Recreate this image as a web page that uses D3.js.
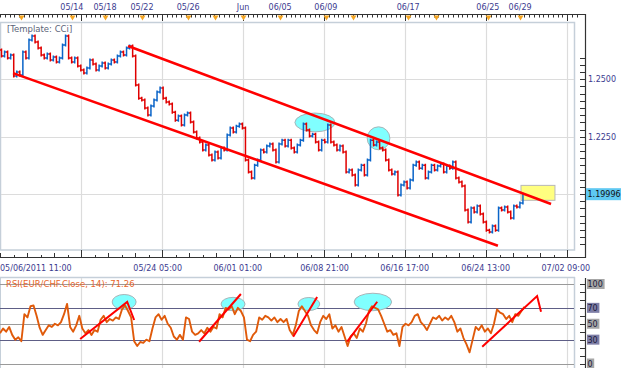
<!DOCTYPE html>
<html><head><meta charset="utf-8">
<script src="https://cdn.jsdelivr.net/npm/d3@7/dist/d3.min.js"></script>
<style>html,body{margin:0;padding:0;background:#fff;}svg{display:block;font-family:"DejaVu Sans",Verdana,sans-serif;}</style>
</head><body><svg id="c" width="625" height="368"></svg>
<script>
// ---------------- DATA ----------------
const barHours = 7; // chart hours per bar
const priceClose = [1.2628,1.2602,1.2619,1.2593,1.2606,1.2514,1.2532,1.2519,1.2619,1.2593,
1.2671,1.2689,1.2663,1.2636,1.2606,1.2593,1.2610,1.2584,1.2597,1.2575,
1.2593,1.2649,1.2689,1.2593,1.2575,1.2593,1.2558,1.2541,1.2527,1.2549,
1.2584,1.2567,1.2541,1.2558,1.2571,1.2549,1.2567,1.2584,1.2575,1.2602,
1.2619,1.2606,1.2636,1.2645,1.2602,1.2475,1.2418,1.2410,1.2375,1.2344,
1.2384,1.2410,1.2445,1.2462,1.2418,1.2401,1.2392,1.2357,1.2322,1.2340,
1.2301,1.2344,1.2353,1.2314,1.2270,1.2244,1.2227,1.2192,1.2214,1.2170,
1.2148,1.2183,1.2157,1.2201,1.2192,1.2257,1.2288,1.2270,1.2296,1.2305,
1.2288,1.2148,1.2096,1.2070,1.2126,1.2148,1.2192,1.2183,1.2209,1.2218,
1.2192,1.2140,1.2218,1.2235,1.2209,1.2235,1.2201,1.2183,1.2214,1.2235,
1.2305,1.2279,1.2253,1.2261,1.2227,1.2192,1.2235,1.2227,1.2301,1.2227,
1.2214,1.2192,1.2209,1.2183,1.2096,1.2105,1.2083,1.2040,1.2105,1.2126,
1.2083,1.2148,1.2235,1.2214,1.2227,1.2201,1.2192,1.2148,1.2105,1.2087,
1.2096,1.1996,1.2040,1.2053,1.2027,1.2061,1.2126,1.2140,1.2113,1.2126,
1.2070,1.2096,1.2126,1.2105,1.2122,1.2131,1.2096,1.2122,1.2113,1.2140,
1.2070,1.2053,1.2035,1.1931,1.1878,1.1940,1.1922,1.1948,1.1913,1.1878,
1.1843,1.1835,1.1861,1.1843,1.1940,1.1931,1.1944,1.1922,1.1896,1.1948,
1.1944,1.1961,1.19996];
const rsiValues = [38,44,40,46,36,30,33,28,62,58,
72,73,60,45,36,42,48,46,50,48,
52,62,75,46,40,48,60,44,38,42,
36,42,40,55,60,52,56,54,58,56,
68,73,66,58,28,22,27,26,30,28,
44,58,62,55,60,50,45,34,30,36,
30,58,56,40,36,38,42,38,45,40,
46,44,62,58,70,68,72,62,70,66,
58,30,28,36,40,58,55,60,58,54,
58,52,56,52,56,42,36,48,66,72,
66,60,48,42,38,52,60,56,62,44,
48,40,46,34,22,34,38,32,44,40,
50,66,72,70,68,60,50,40,42,36,
38,22,46,50,48,52,60,62,52,48,
42,50,58,56,60,54,58,55,60,52,
40,44,32,24,14,30,46,42,48,40,
44,38,50,68,64,62,56,60,52,62,
60,66,71.26];
const topLabels = ["05/14","05/18","05/22","05/26","Jun","06/05","06/09","06/17","06/25","06/29"];
const topLabelHours = [165,241,326,432,558,643,748,937,1120,1194];
const topExtraMarkerHours = [48,494,810,1001];
const bottomLabels = ["05/06/2011 11:00","05/24 05:00","06/01 01:00","06/08 21:00","06/16 17:00","06/24 13:00","07/02 09:00"];
const bottomLabelHours = [0,362,546,745,929,1115,1299];
const gridHours = [186,372,558,744,930,1116,1302];
const priceTickValues = [1.2250,1.2500];
const lastPrice = 1.19996;
const rsiLevels = [100,70,50,30,0];
const rsiLastLabel = "RSI(EUR/CHF.Close, 14): 71.26";
const templateLabel = "[Template: CCi]";
const channelUpper = [[294,1.2645],[1265,1.1957]];
const channelLower = [[30,1.2527],[1143,1.1775]];
const targetBox = {h0:1196,h1:1274,p0:1.1973,p1:1.2038};
const priceHighlights = [{h:723,p:1.2312,dh:46,dp:0.0041},{h:869,p:1.2243,dh:26,dp:0.0050}];
const rsiHighlights = [{h:285,v:77.4,dh:27.5,dv:9.4},{h:535,v:74.8,dh:27.5,dv:8.4},{h:709,v:74.8,dh:25,dv:8.2},{h:856,v:77.4,dh:43,dv:11}];
const rsiTrendLines = [
  [[184,30.8],[292,77.4],[308,54.7]],
  [[457,27.4],[553,87.4]],
  [[673,33.7],[728,83.6]],
  [[797,27.4],[866,77.7]],
  [[1107,21.1],[1233,84.9],[1242,65.2]]
];

// ---------------- DRAW ----------------
const svg = d3.select("#c");
const x = d3.scaleLinear().domain([0,1320]).range([0,575]);
const y = d3.scaleLinear().domain([1.20,1.25]).range([194.1,79.3]);
const yr = d3.scaleLinear().domain([0,100]).range([363.5,284]);
const AX = 585.5;
const textCol = "#3b3b8f";
const gridCol = "#dcdcdc";
const frameCol = "#c5cfd9";

// main panel frame + grid
const mainG = svg.append("g");
mainG.append("rect").attr("x",0.5).attr("y",22.5).attr("width",574).attr("height",227.5)
  .attr("fill","#fff").attr("stroke",frameCol).attr("stroke-width",1.5);
[1.20,1.225,1.25].forEach(v=>{
  mainG.append("line").attr("x1",1).attr("x2",574).attr("y1",Math.round(y(v))+0.5).attr("y2",Math.round(y(v))+0.5)
   .attr("stroke",gridCol).attr("stroke-width",1.2);
});
gridHours.forEach(h=>{
  mainG.append("line").attr("x1",Math.round(x(h))+0.5).attr("x2",Math.round(x(h))+0.5).attr("y1",23).attr("y2",249)
   .attr("stroke",gridCol).attr("stroke-width",1.2);
});
// highlights
priceHighlights.forEach(e=>{
  mainG.append("ellipse").attr("cx",x(e.h)).attr("cy",y(e.p))
   .attr("rx",x(e.dh)-x(0)).attr("ry",Math.abs(y(1.2+e.dp)-y(1.2)))
   .attr("fill","#80ffff").attr("stroke","#a8b4b8").attr("stroke-width",1);
});
// target box
mainG.append("rect").attr("x",x(targetBox.h0)).attr("y",y(targetBox.p1))
  .attr("width",x(targetBox.h1)-x(targetBox.h0)).attr("height",y(targetBox.p0)-y(targetBox.p1))
  .attr("fill","#ffff80").attr("stroke","#b8b8b8").attr("stroke-width",1);
// price bars: open = previous close, OHLC-style vertical bar coloured by direction
const pg = mainG.append("g");
priceClose.forEach((c,i)=>{
  if(i===0) return;
  const o = priceClose[i-1];
  const xm = x(i*barHours - barHours/2);
  const yo = y(o), yc = y(c);
  const yTop = Math.min(yo,yc)-1.5, yBot = Math.max(yo,yc)+1.5;
  pg.append("path").attr("d",`M${xm},${yTop}V${yBot}M${xm-1.6},${yo}H${xm}M${xm},${yc}H${xm+1.6}`)
    .attr("fill","none").attr("stroke", c>=o ? "#0a64c8" : "#e00000").attr("stroke-width",1.5);
});
// channel lines
const ln = d3.line().x(d=>x(d[0])).y(d=>y(d[1]));
[channelUpper,channelLower].forEach(c=>{
  mainG.append("path").attr("d",ln(c)).attr("fill","none").attr("stroke","#ff0000").attr("stroke-width",2.6);
});
mainG.append("text").attr("x",7).attr("y",31.5).attr("font-size",8.5).attr("fill","#5a6478").text(templateLabel);

// top axis
const topG = svg.append("g");
topG.append("line").attr("x1",0).attr("x2",AX).attr("y1",14.5).attr("y2",14.5).attr("stroke","#333").attr("stroke-width",1.2);
d3.range(0,1330,186/17).forEach(h=>{
  const isMaj = Math.abs(h/186 - Math.round(h/186))<1e-6 && h>0;
  topG.append("line").attr("x1",Math.round(x(h))+0.5).attr("x2",Math.round(x(h))+0.5).attr("y1",14.5).attr("y2",isMaj?21:17.5)
    .attr("stroke","#333").attr("stroke-width",1);
});
topG.append("line").attr("x1",AX).attr("x2",AX).attr("y1",14).attr("y2",258).attr("stroke","#333").attr("stroke-width",1.2);
topLabelHours.concat(topExtraMarkerHours).forEach(h=>{
  const cx = Math.round(x(h))+0.5;
  topG.append("path").attr("d",`M${cx-3},15.5L${cx+3},15.5L${cx},20.5Z`).attr("fill","#f5a623");
});
topLabels.forEach((t,i)=>{
  topG.append("text").attr("x",x(topLabelHours[i])).attr("y",9.5).attr("text-anchor","middle")
    .attr("font-size",8).attr("fill",textCol).text(t);
});

// right price axis
const ra = svg.append("g");
d3.range(-8,20).map(k=>1.2+k*0.003125).filter(v=>y(v)>24 && y(v)<250).forEach(v=>{
  ra.append("line").attr("x1",580).attr("x2",AX).attr("y1",Math.round(y(v))+0.5).attr("y2",Math.round(y(v))+0.5)
    .attr("stroke","#333").attr("stroke-width",1);
});
priceTickValues.forEach(v=>{
  ra.append("text").attr("x",588).attr("y",y(v)+3).attr("font-size",8).attr("fill",textCol).text(d3.format(".4f")(v));
});
ra.append("rect").attr("x",586).attr("y",y(lastPrice)-6).attr("width",35).attr("height",12).attr("fill","#5ec8f2");
ra.append("text").attr("x",587.5).attr("y",y(lastPrice)+3).attr("font-size",8).attr("fill","#111").text(d3.format(".5f")(lastPrice));

// bottom axis
const ba = svg.append("g");
ba.append("line").attr("x1",0).attr("x2",AX).attr("y1",257.5).attr("y2",257.5).attr("stroke","#333").attr("stroke-width",1.2);
d3.range(0,1330,31).forEach((h,i)=>{
  const isMaj = i%6===0 && i>0;
  ba.append("line").attr("x1",Math.round(x(h))+0.5).attr("x2",Math.round(x(h))+0.5)
    .attr("y1",isMaj?250:(i%2? 255:253)).attr("y2",257.5).attr("stroke","#333").attr("stroke-width",1);
});
bottomLabels.forEach((t,i)=>{
  ba.append("text").attr("x",x(bottomLabelHours[i])).attr("y",270.5).attr("text-anchor",i===0?"start":"middle")
    .attr("font-size",8).attr("fill",textCol).text(t);
});

// RSI panel
const rp = svg.append("g");
rp.append("line").attr("x1",0).attr("x2",575).attr("y1",277.5).attr("y2",277.5).attr("stroke",frameCol).attr("stroke-width",1.5);
rp.append("line").attr("x1",574.5).attr("x2",574.5).attr("y1",277).attr("y2",368).attr("stroke",frameCol).attr("stroke-width",1.5);
rp.append("line").attr("x1",0.5).attr("x2",0.5).attr("y1",277).attr("y2",368).attr("stroke",frameCol).attr("stroke-width",1);
gridHours.forEach(h=>{
  rp.append("line").attr("x1",Math.round(x(h))+0.5).attr("x2",Math.round(x(h))+0.5).attr("y1",278).attr("y2",368)
   .attr("stroke",gridCol).attr("stroke-width",1.2);
});
const levelCol = v => (v===70||v===30) ? "#5e5e86" : "#9a9a9a";
rsiLevels.forEach(v=>{
  rp.append("line").attr("x1",0).attr("x2",574).attr("y1",Math.round(yr(v))+0.5).attr("y2",Math.round(yr(v))+0.5)
    .attr("stroke",levelCol(v)).attr("stroke-width",1.2);
});
rsiHighlights.forEach(e=>{
  rp.append("ellipse").attr("cx",x(e.h)).attr("cy",yr(e.v)).attr("rx",x(e.dh)-x(0)).attr("ry",yr(0)-yr(e.dv))
    .attr("fill","#80ffff").attr("stroke","#a8b4b8").attr("stroke-width",1);
});
rp.append("path").datum(rsiValues).attr("d",d3.line().x((d,i)=>x(i*barHours)).y(d=>yr(d)))
  .attr("fill","none").attr("stroke","#e05a0a").attr("stroke-width",1.9).attr("stroke-linejoin","round");
const lr = d3.line().x(d=>x(d[0])).y(d=>yr(d[1]));
rsiTrendLines.forEach(l=>{
  rp.append("path").attr("d",lr(l)).attr("fill","none").attr("stroke","#ff0000").attr("stroke-width",2);
});
rp.append("text").attr("x",6).attr("y",286.5).attr("font-size",8.5).attr("fill","#e8662a").text(rsiLastLabel);
// RSI axis
rp.append("line").attr("x1",AX).attr("x2",AX).attr("y1",278).attr("y2",368).attr("stroke","#333").attr("stroke-width",1.2);
d3.range(0,101,10).forEach(v=>{
  rp.append("line").attr("x1",580).attr("x2",AX).attr("y1",Math.round(yr(v))+0.5).attr("y2",Math.round(yr(v))+0.5)
    .attr("stroke","#333").attr("stroke-width",1);
});
rsiLevels.forEach(v=>{
  const t = String(v);
  const w = t.length*5.2+2;
  rp.append("rect").attr("x",587).attr("y",yr(v)-5).attr("width",w).attr("height",10)
    .attr("fill",(v===70||v===30)?"#7e7ea6":"#a6a6a6");
  rp.append("text").attr("x",587.5).attr("y",yr(v)+3).attr("font-size",8).attr("fill","#1a1a3a").text(t);
});
</script></body></html>
